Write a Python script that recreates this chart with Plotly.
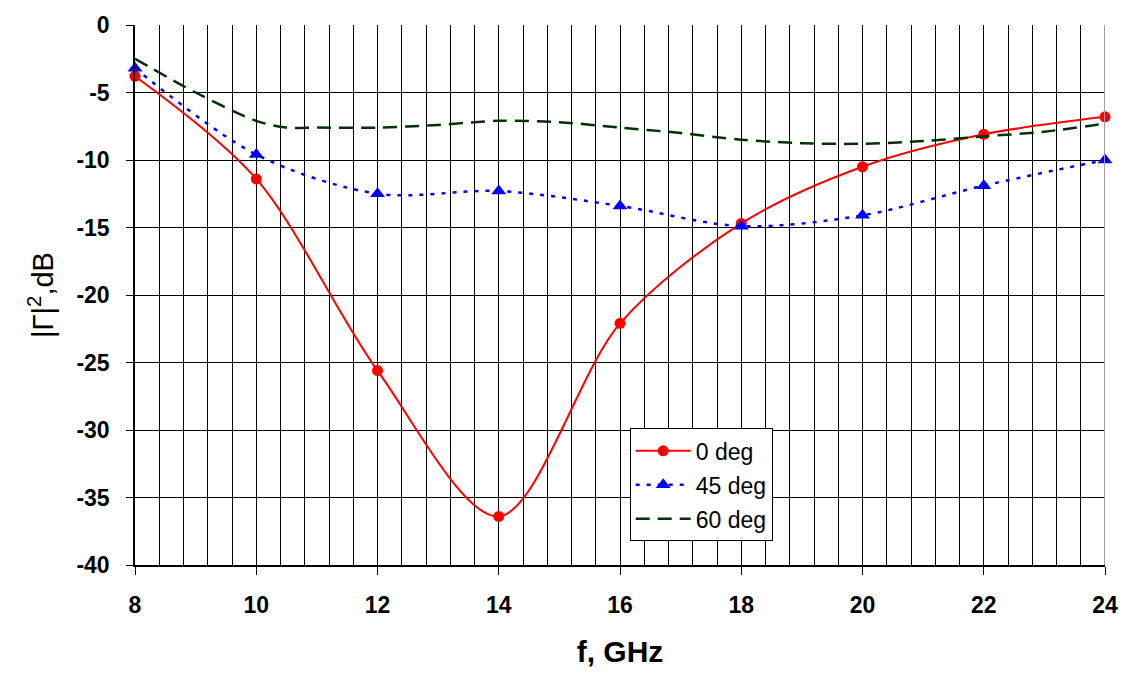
import plotly.graph_objects as go

# Frequency points (GHz) and reflection values |Γ|², dB
freq = [8, 10, 12, 14, 16, 18, 20, 22, 24]
gamma_0deg = [-3.8, -11.4, -25.6, -36.4, -22.1, -14.7, -10.5, -8.1, -6.8]
gamma_45deg = [-3.2, -9.6, -12.5, -12.3, -13.4, -14.9, -14.1, -11.9, -10.0]

freq_60 = [8, 9, 10, 10.5, 11, 12, 13, 14, 15, 16, 17, 18, 19, 20, 21, 22, 23, 24]
gamma_60deg = [-2.5, -5.0, -7.1, -7.6, -7.6, -7.6, -7.4, -7.1, -7.2, -7.6, -8.0,
               -8.5, -8.75, -8.8, -8.6, -8.25, -7.9, -7.3]

x_ticks = [8, 10, 12, 14, 16, 18, 20, 22, 24]
y_ticks = [0, -5, -10, -15, -20, -25, -30, -35, -40]

fig = go.Figure()

fig.add_trace(go.Scatter(
    x=freq, y=gamma_0deg, name="0 deg", mode="lines+markers", legendgroup="a",
    line=dict(color="#ff0000", width=2, shape="spline", smoothing=0.9),
    marker=dict(symbol="circle", size=11, color="#ff0000"),
    cliponaxis=False,
))
fig.add_trace(go.Scatter(
    x=freq, y=gamma_45deg, name="45 deg", mode="lines+markers", legendgroup="b",
    line=dict(color="#0000ff", width=2.5, dash="4px,7px", shape="spline", smoothing=0.9),
    marker=dict(symbol="triangle-up", size=13, color="#0000ff"),
    cliponaxis=False,
))
fig.add_trace(go.Scatter(
    x=freq_60, y=gamma_60deg, name="60 deg", mode="lines", legendgroup="c",
    line=dict(color="#003300", width=2.5, dash="14px,8px", shape="spline", smoothing=0.9),
    cliponaxis=False,
))

tick_font = dict(family="Liberation Sans", size=23, color="black", weight="bold")

fig.update_layout(
    width=1130, height=675,
    margin=dict(l=135, r=25, t=19, b=110),
    paper_bgcolor="white", plot_bgcolor="white",
    font=dict(family="Liberation Sans", color="black"),
    showlegend=True,
    legend=dict(
        x=0.510, y=0.253, xanchor="left", yanchor="top",
        bgcolor="white", bordercolor="black", borderwidth=1,
        font=dict(family="Liberation Sans", size=23, color="black"),
        tracegroupgap=1, itemwidth=55,
    ),
    xaxis=dict(
        range=[8, 24], tickvals=x_ticks, ticktext=[str(v) for v in x_ticks],
        showgrid=True, gridcolor="black", gridwidth=1.3,
        minor=dict(dtick=0.4, tick0=8, showgrid=True, gridcolor="black", gridwidth=1.3),
        ticks="outside", ticklen=8, tickcolor="black", tickwidth=1.3,
        ticklabelstandoff=11,
        showline=True, linecolor="black", linewidth=1.5,
        zeroline=False, tickfont=tick_font,
        title=dict(text="f, GHz", standoff=24,
                   font=dict(family="Liberation Sans", size=30, color="black", weight="bold")),
    ),
    yaxis=dict(
        range=[-40, 0], tickvals=y_ticks, ticktext=[str(v) for v in y_ticks],
        showgrid=True, gridcolor="black", gridwidth=1.3,
        ticks="outside", ticklen=7, tickcolor="black", tickwidth=1.3,
        ticklabelstandoff=12,
        showline=True, linecolor="black", linewidth=1.5,
        zeroline=False, tickfont=tick_font,
        title=dict(text="|Γ|<sup>2</sup>,dB", standoff=14,
                   font=dict(family="Liberation Sans", size=29, color="black")),
    ),
)

# Gray frame on the right edge of the plot area
fig.add_shape(type="line", xref="x", yref="paper", x0=24, x1=24, y0=0, y1=1,
              line=dict(color="#a0a0a0", width=2), layer="above")

fig.write_html("out.html")
